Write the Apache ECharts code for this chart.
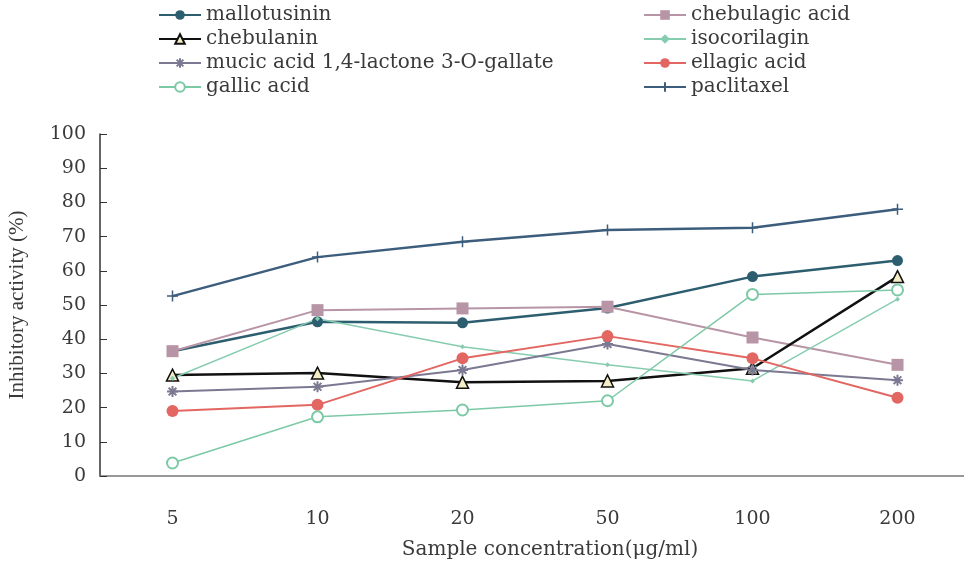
<!DOCTYPE html>
<html>
<head>
<meta charset="utf-8">
<script src="https://cdn.jsdelivr.net/npm/echarts@6/dist/echarts.min.js"></script>
<style>
  html, body { margin: 0; padding: 0; background: #fff; }
  #main { width: 964px; height: 562px; }
</style>
</head>
<body>
<div id="main"></div>
<script>
// concentrations (µg/ml)
var categories = ['5', '10', '20', '50', '100', '200'];

// inhibitory activity (%)
var mallotusinin = [36.5, 45.1, 44.8, 49.1, 58.3, 63.0];
var chebulagicAcid = [36.5, 48.5, 49.0, 49.5, 40.5, 32.5];
var chebulanin = [29.5, 30.1, 27.4, 27.8, 31.5, 58.3];
var isocorilagin = [28.6, 46.0, 37.8, 32.5, 27.8, 51.7];
var mucicAcid = [24.7, 26.1, 31.0, 38.6, 31.0, 28.0];
var ellagicAcid = [19.0, 20.8, 34.4, 40.9, 34.4, 22.9];
var gallicAcid = [3.8, 17.3, 19.3, 22.0, 53.1, 54.4];
var paclitaxel = [52.6, 64.0, 68.5, 71.9, 72.6, 78.0];

var yTicks = [0, 10, 20, 30, 40, 50, 60, 70, 80, 90, 100];

// the scan is stretched sideways, so use the widest serif installed
var wide = '"DejaVu Serif", "Liberation Serif", serif';
var serif = '"Liberation Serif", "DejaVu Serif", serif';

var asterisk = 'path://M0,5L10,5M5,0L5,10M1.5,1.5L8.5,8.5M8.5,1.5L1.5,8.5';
var plus = 'path://M5,0L5,10M0,5L10,5';

function line(name, data, color, width, symbol, size, extra) {
    var s = {
        name: name,
        type: 'line',
        data: data,
        symbol: symbol,
        symbolSize: size,
        lineStyle: { color: color, width: width },
        itemStyle: { color: color },
        z: 2
    };
    if (extra) {
        for (var k in extra) s[k] = extra[k];
    }
    return s;
}

var chart = echarts.init(document.getElementById('main'));

var legendText = { fontFamily: wide, fontSize: 20, color: '#3a3a3a' };

var option = {
    backgroundColor: '#fff',
    animation: false,
    textStyle: { fontFamily: wide },
    legend: [{
        orient: 'vertical',
        left: 153,
        top: 0,
        itemGap: 4,
        itemWidth: 42,
        itemHeight: 12,
        textStyle: legendText,
        data: ['mallotusinin', 'chebulanin', 'mucic acid 1,4-lactone 3-O-gallate', 'gallic acid']
    }, {
        orient: 'vertical',
        left: 638,
        top: 0,
        itemGap: 4,
        itemWidth: 42,
        itemHeight: 12,
        textStyle: legendText,
        data: ['chebulagic acid', 'isocorilagin', 'ellagic acid', 'paclitaxel']
    }],
    grid: { left: 100, right: -6, top: 134, bottom: 86, outerBoundsMode: 'none', containLabel: false },
    xAxis: {
        type: 'category',
        data: categories,
        boundaryGap: true,
        name: 'Sample concentration(μg/ml)',
        nameLocation: 'middle',
        nameGap: 64,
        nameTextStyle: { fontFamily: wide, fontSize: 20, color: '#3a3a3a', padding: [0, 0, 0, 30] },
        axisLine: { lineStyle: { color: '#777', width: 1.5 } },
        axisTick: { inside: true, length: 6, lineStyle: { color: '#444' } },
        axisLabel: { margin: 34, fontFamily: wide, fontSize: 19, color: '#3a3a3a' },
        splitLine: { show: false }
    },
    yAxis: {
        type: 'value',
        min: yTicks[0],
        max: yTicks[yTicks.length - 1],
        interval: 10,
        name: 'Inhibitory activity (%)',
        nameLocation: 'middle',
        nameGap: 72,
        nameTextStyle: { fontFamily: serif, fontSize: 21, color: '#3a3a3a' },
        axisLine: { show: true, lineStyle: { color: '#333', width: 1.5 } },
        axisTick: { show: true, inside: true, length: 7, lineStyle: { color: '#333' } },
        axisLabel: { margin: 14, fontFamily: wide, fontSize: 19, color: '#3a3a3a', padding: [10, 0, 0, 0] },
        splitLine: { show: false }
    },
    series: [
        line('mallotusinin', mallotusinin, '#2d5e70', 2.5, 'circle', 11),
        line('chebulagic acid', chebulagicAcid, '#b895a6', 2, 'rect', 12),
        line('chebulanin', chebulanin, '#111', 2.5, 'triangle', 12, {
            itemStyle: { color: '#f3eec4', borderColor: '#111', borderWidth: 1.5 }
        }),
        line('isocorilagin', isocorilagin, '#86cdb0', 1.5, 'diamond', 5),
        line('mucic acid 1,4-lactone 3-O-gallate', mucicAcid, '#7b7892', 2, asterisk, 11, {
            itemStyle: { color: '#7b7892', borderColor: '#7b7892', borderWidth: 2 }
        }),
        line('ellagic acid', ellagicAcid, '#e26661', 2, 'circle', 12),
        line('gallic acid', gallicAcid, '#7cc9a6', 1.5, 'emptyCircle', 11, {
            itemStyle: { color: '#7cc9a6', borderWidth: 1.2 }
        }),
        line('paclitaxel', paclitaxel, '#3c5d7c', 2.5, plus, 11, {
            itemStyle: { color: '#3c5d7c', borderColor: '#3c5d7c', borderWidth: 1.5 }
        })
    ]
};

chart.setOption(option);
</script>
</body>
</html>
